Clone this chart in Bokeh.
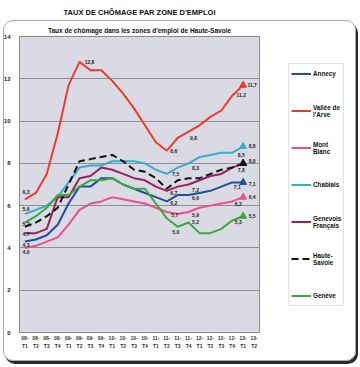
from bokeh.plotting import figure
from bokeh.layouts import row
from bokeh.models import (ColumnDataSource, Legend, LegendItem, Title, CategoricalAxis,
                          FixedTicker, Range1d, InlineStyleSheet, CustomJSTickFormatter)
from bokeh.core.properties import value
from bokeh.embed import file_html
from bokeh.resources import INLINE

# ---------------- data ----------------
categories = ["08-T1", "08-T2", "08-T3", "08-T4", "09-T1", "09-T2", "09-T3", "09-T4",
              "10-T1", "10-T2", "10-T3", "10-T4", "11-T1", "11-T2", "11-T3", "11-T4",
              "12-T1", "12-T2", "12-T3", "12-T4", "13-T1", "13-T2"]
annecy      = [4.3, 4.4, 4.6, 5.1, 6.1, 6.9, 6.9, 7.3, 7.3, 7.0, 6.8, 6.6, 6.4, 6.2, 6.5, 6.5, 6.6, 6.7, 6.9, 7.1, 7.1]
vallee      = [6.3, 6.6, 7.5, 9.4, 11.7, 12.8, 12.4, 12.4, 11.9, 11.3, 10.6, 9.8, 9.0, 8.6, 9.2, 9.5, 9.8, 10.2, 10.5, 11.2, 11.7]
montblanc   = [4.0, 4.1, 4.3, 4.5, 5.1, 5.8, 6.1, 6.2, 6.4, 6.3, 6.2, 6.1, 5.9, 5.7, 5.6, 5.7, 5.9, 6.0, 6.1, 6.2, 6.4]
chablais    = [5.6, 5.8, 6.0, 6.4, 7.1, 7.8, 7.9, 7.9, 8.1, 8.1, 8.1, 8.0, 7.7, 7.5, 7.8, 8.0, 8.3, 8.4, 8.5, 8.5, 8.8]
genevois    = [4.7, 4.7, 4.9, 6.4, 6.4, 7.3, 7.4, 7.8, 7.7, 7.5, 7.3, 7.2, 6.9, 6.7, 6.9, 7.0, 7.2, 7.4, 7.5, 7.8, 8.0]
hautesavoie = [5.0, 5.2, 5.5, 5.9, 7.0, 8.1, 8.2, 8.3, 8.4, 8.1, 7.7, 7.6, 7.3, 6.8, 7.2, 7.3, 7.3, 7.5, 7.7, 7.8, 8.0]
geneve      = [5.2, 5.5, 5.9, 6.5, 6.5, 6.9, 7.2, 7.2, 7.3, 7.0, 6.8, 6.8, 6.1, 5.4, 5.0, 5.2, 4.7, 4.7, 4.9, 5.3, 5.5]

series_keys = ["annecy", "vallee", "montblanc", "chablais", "genevois", "hautesavoie", "geneve"]
series_values = {"annecy": annecy, "vallee": vallee, "montblanc": montblanc, "chablais": chablais,
                 "genevois": genevois, "hautesavoie": hautesavoie, "geneve": geneve}
series_names = {"annecy": "Annecy", "vallee": "Vallée de\nl'Arve", "montblanc": "Mont\nBlanc",
                "chablais": "Chablais", "genevois": "Genevois\nFrançais",
                "hautesavoie": "Haute-\nSavoie", "geneve": "Genève"}
y_ticks = [0, 2, 4, 6, 8, 10, 12, 14]
title_main = "TAUX DE CHÔMAGE PAR ZONE D'EMPLOI"
title_sub = "Taux de chômage dans les zones d'emploi de Haute-Savoie"

# ---------------- styles ----------------
FONT = "Liberation Sans"
colors = {"annecy": "#1F4E9F", "vallee": "#EE3A2A", "montblanc": "#EE4E8A", "chablais": "#36AECA",
          "genevois": "#962262", "hautesavoie": "#111111", "geneve": "#3CA83A"}
dashes = {"hautesavoie": "7 4"}

# data-label placement: (series, category index, dx, dy) ; dy positive = down
label_specs = [
    ("vallee", 0, 1, -7), ("chablais", 0, 1, -5), ("geneve", 0, 1, 1), ("genevois", 0, 1, 1),
    ("annecy", 0, 1, 3), ("montblanc", 0, 1, 4),
    ("vallee", 5, 10, 0),
    ("vallee", 13, 7, 0), ("chablais", 13, 9, 0), ("genevois", 13, 7, 2), ("annecy", 13, 7, 2),
    ("montblanc", 13, 8, 3), ("geneve", 14, -2, 5),
    ("vallee", 16, -6, 13), ("chablais", 16, -4, 11), ("genevois", 16, -4, 10), ("annecy", 16, -4, 5),
    ("montblanc", 16, -4, 7), ("geneve", 15, 7, -1),
    ("vallee", 19, 9, -1), ("chablais", 19, 9, 2), ("hautesavoie", 19, 9, 2), ("annecy", 19, 5, 5),
    ("montblanc", 19, 6, 3), ("geneve", 19, 6, 2),
    ("vallee", 20, 9, 0), ("chablais", 20, 9, 0), ("hautesavoie", 20, 9, -2), ("annecy", 20, 9, 2),
    ("montblanc", 20, 9, 0), ("geneve", 20, 9, 0),
]

H = 351
MAIN_W, LEG_W = 282, 62
p = figure(width=MAIN_W, height=H, x_range=categories, y_range=Range1d(0, 14),
           output_backend="svg", toolbar_location=None,
           min_border_left=13, min_border_right=23, min_border_top=0, min_border_bottom=0)
p.x_range.range_padding = 0
p.background_fill_color = "#D9DAE3"
p.border_fill_color = "white"
p.outline_line_color = "#8a8a8a"
p.outline_line_width = 1

p.title = Title(text=title_main, align="center", text_font=FONT, text_font_style="bold",
                text_font_size="7.5px", text_color="#111111", standoff=10)
p.add_layout(Title(text=title_sub, align="center", text_font=FONT, text_font_style="bold",
                   text_font_size="6.5px", text_color="#111111", standoff=6), "above")

p.yaxis.ticker = FixedTicker(ticks=y_ticks)
p.yaxis.axis_line_color = None
p.yaxis.major_tick_line_color = None
p.yaxis.minor_tick_line_color = None
p.yaxis.major_label_text_font = FONT
p.yaxis.major_label_text_font_style = "bold"
p.yaxis.major_label_text_font_size = "6px"
p.yaxis.major_label_text_color = "#222222"
p.yaxis.major_label_standoff = 3

def style_xaxis(ax, standoff):
    ax.axis_line_color = None
    ax.major_tick_line_color = None
    ax.minor_tick_line_color = None
    ax.major_tick_out = 0
    ax.major_tick_in = 0
    ax.axis_label_standoff = 0
    ax.major_label_text_font = FONT
    ax.major_label_text_font_style = "bold"
    ax.major_label_text_font_size = "5px"
    ax.major_label_text_color = "#333333"
    ax.major_label_standoff = standoff

# tick labels "08-" / "T1" on two rows, taken from the category names
xa1 = p.xaxis[0]
style_xaxis(xa1, 3)
xa1.axis_line_color = "#8a8a8a"
xa1.formatter = CustomJSTickFormatter(code="return tick.split('-')[0] + '-';")
xa2 = CategoricalAxis()
style_xaxis(xa2, 0)
xa2.formatter = CustomJSTickFormatter(code="return tick.split('-')[1];")
p.add_layout(xa2, "below")

p.xgrid.grid_line_color = None
p.ygrid.grid_line_color = "#8E8E96"
p.ygrid.grid_line_width = 1

for k in series_keys:
    vals = series_values[k]
    src = ColumnDataSource(dict(x=categories[:len(vals)], y=vals))
    p.line("x", "y", source=src, line_color=colors[k], line_width=2,
           line_dash=dashes.get(k, "solid"))

# end triangles at last value
for k in series_keys:
    vals = series_values[k]
    p.scatter([categories[len(vals) - 1]], [vals[-1]], marker="triangle", size=7,
              fill_color=colors[k], line_color=colors[k])

# data labels
lx, ly, lt, ldx, ldy = [], [], [], [], []
for k, i, dx, dy in label_specs:
    v = series_values[k][i]
    lx.append(categories[i]); ly.append(v)
    lt.append(f"{v:.1f}".replace(".", ","))
    ldx.append(dx); ldy.append(dy)
lsrc = ColumnDataSource(dict(x=lx, y=ly, t=lt, dx=ldx, dy=ldy))
p.text("x", "y", text="t", source=lsrc, x_offset="dx", y_offset="dy",
       text_font=value(FONT), text_font_style="bold", text_font_size="5px",
       text_color="#222222", text_align="center", text_baseline="middle")

# ---------------- legend panel (separate figure) ----------------
pl = figure(width=LEG_W, height=H, x_range=Range1d(0, 1), y_range=Range1d(0, 1),
            output_backend="svg", toolbar_location=None,
            min_border_left=0, min_border_right=0, min_border_top=0, min_border_bottom=0,
            x_axis_type=None, y_axis_type=None)
pl.outline_line_color = None
pl.background_fill_color = "white"
pl.border_fill_color = "white"
pl.grid.visible = False
items = []
for k in series_keys:
    # swatch renderer (kept outside the visible range, only its style is used by the legend)
    r = pl.line(x=[0, 1], y=[-5, -5], line_color=colors[k], line_width=2,
                line_dash=dashes.get(k, "solid"))
    items.append(LegendItem(label=series_names[k], renderers=[r]))
legend = Legend(items=items, location=(6, 26), orientation="vertical",
                label_text_font=FONT, label_text_font_style="bold", label_text_font_size="6.3px",
                label_text_color="#111111", label_text_line_height=1.1,
                glyph_width=20, glyph_height=15, label_height=15, label_standoff=2,
                spacing=22, padding=2, margin=0,
                border_line_color="#c8c8c8", border_line_width=1,
                background_fill_color="white", background_fill_alpha=1)
pl.add_layout(legend)

layout = row(p, pl)
# decorative rounded frame with dark shadow around chart body (page coordinates)
layout.stylesheets = [InlineStyleSheet(css="""
:host::after { content: ""; position: absolute; left: 3px; top: 20px; width: 353px; height: 341px;
  border: 1px solid #a8a8a8; border-radius: 10px; box-shadow: 2px 3px 0 0 #2a2a2a;
  box-sizing: border-box; pointer-events: none; }
""")]

open("out.html", "w").write(file_html(layout, INLINE))
